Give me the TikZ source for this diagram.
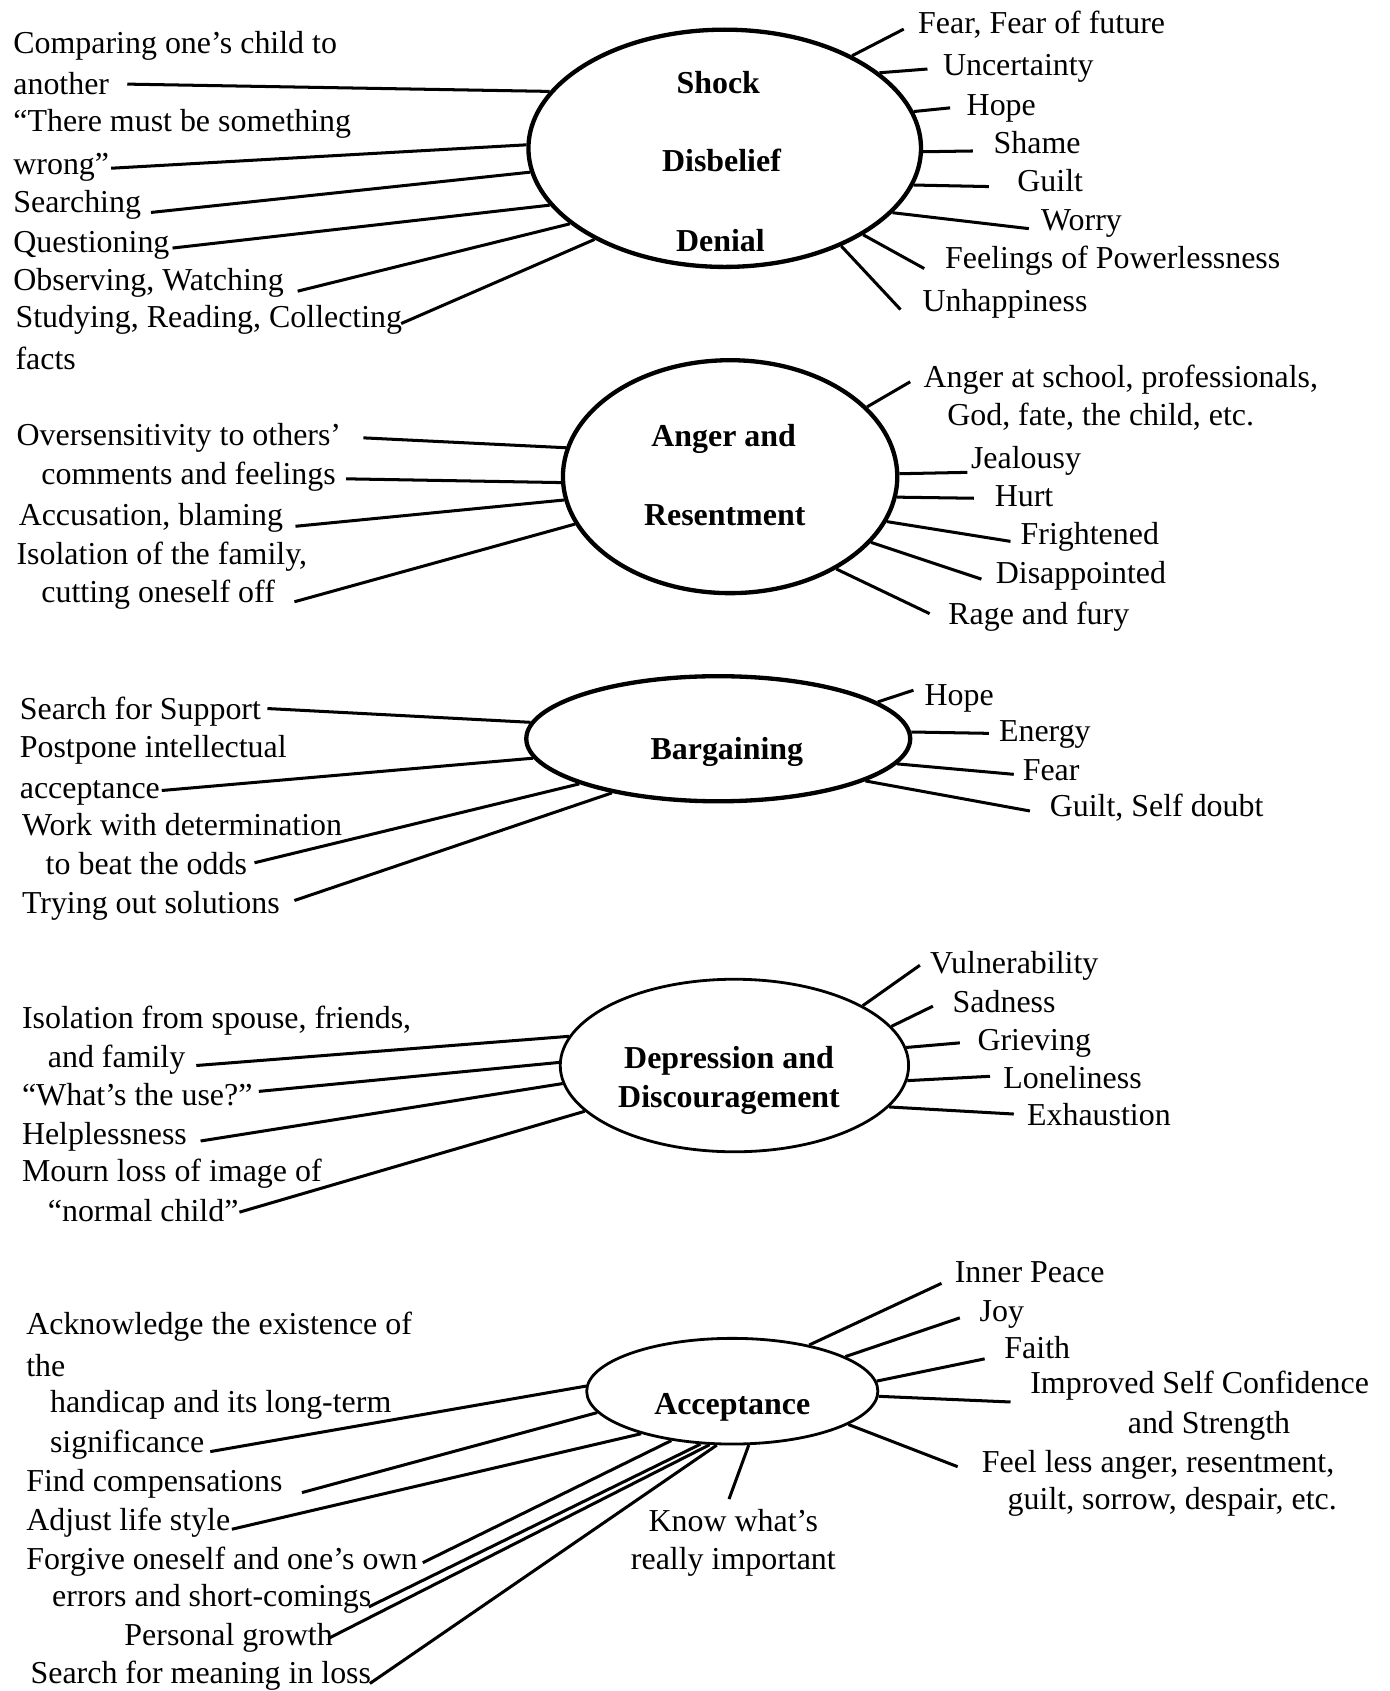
\documentclass[tikz,border=0pt]{standalone}
\usepackage{fontspec}
\setmainfont{Liberation Serif}
\usetikzlibrary{shapes.geometric}
\newcommand{\fsz}{\fontsize{14.8pt}{18pt}\selectfont}
\tikzset{
  stage/.style={draw, ellipse, inner sep=0pt, line width=2pt},
  stagethin/.style={stage, line width=1.3pt},
  txt/.style={anchor=base west, inner sep=0pt, font=\fsz},
  ctxt/.style={anchor=base, inner sep=0pt, font=\fsz},
  btxt/.style={anchor=base, inner sep=0pt, font=\fsz\bfseries},
  link/.style={line width=1.4pt}
}
\begin{document}
\begin{tikzpicture}[x=0.5pt,y=-0.5pt]
\fill[white] (0,0) rectangle (1288,1568);
\useasboundingbox (0,0) rectangle (1288,1568);

% ---------------- Stage 1: Shock / Disbelief / Denial
\node[stage, minimum width=182pt, minimum height=110pt] (E1) at (672,137.5) {};
\node[btxt] (s1a) at (666,87) {Shock};
\node[btxt] (s1b) at (669,159) {Disbelief};
\node[btxt] (s1c) at (668,233) {Denial};

\node[txt] (l11a) at (12,50) {Comparing one’s child to};
\node[txt] (l11b) at (12,88) {another};
\node[txt] (l12a) at (12,122) {“There must be something};
\node[txt] (l12b) at (12,162) {wrong”};
\node[txt] (l13) at (12,197) {Searching};
\node[txt] (l14) at (12,234) {Questioning};
\node[txt] (l15) at (12,269) {Observing, Watching};
\node[txt] (l16a) at (14,304) {Studying, Reading, Collecting};
\node[txt] (l16b) at (14,343) {facts};

\coordinate (c11) at (118,78);
\coordinate (c12) at (103,156);
\coordinate (c13) at (140,197);
\coordinate (c14) at (160,230);
\coordinate (c15) at (276,270);
\coordinate (c16) at (372,300);
\draw[link] (c11) -- (E1.162.8);
\draw[link] (c12) -- (E1.179.2);
\draw[link] (c13) -- (E1.187.4);
\draw[link] (c14) -- (E1.198.8);
\draw[link] (c15) -- (E1.206.1);
\draw[link] (c16) -- (E1.215.0);

\node[txt] (r11t) at (851,31) {Fear, Fear of future};
\node[txt] (r12t) at (874,70) {Uncertainty};
\node[txt] (r13t) at (896,107) {Hope};
\node[txt] (r14t) at (921,142) {Shame};
\node[txt] (r15t) at (943,178) {Guilt};
\node[txt] (r16t) at (965,214) {Worry};
\node[txt] (r17t) at (876,249) {Feelings of Powerlessness};
\node[txt] (r18t) at (855,289) {Unhappiness};

\coordinate (r11) at (838,27);
\coordinate (r12) at (860,64);
\coordinate (r13) at (881,100);
\coordinate (r14) at (902,140);
\coordinate (r15) at (917,173);
\coordinate (r16) at (954,212);
\coordinate (r17) at (857,249);
\coordinate (r18) at (835,287);
\draw[link] (r11) -- (E1.36.6);
\draw[link] (r12) -- (E1.26.6);
\draw[link] (r13) -- (E1.11.8);
\draw[link] (r14) -- (E1.359.8);
\draw[link] (r15) -- (E1.349.2);
\draw[link] (r16) -- (E1.339.1);
\draw[link] (r17) -- (E1.328.5);
\draw[link] (r18) -- (E1.320.6);

% ---------------- Stage 2: Anger and Resentment
\node[stage, minimum width=155pt, minimum height=108pt] (E2) at (677,442) {};
\node[btxt] (s2a) at (671,414) {Anger and};
\node[btxt] (s2b) at (672,487) {Resentment};

\node[txt] (l21a) at (15,413) {Oversensitivity to others’};
\node[txt] (l21b) at (38,449) {comments and feelings};
\node[txt] (l23) at (17,487) {Accusation, blaming};
\node[txt] (l24a) at (15,523) {Isolation of the family,};
\node[txt] (l24b) at (38,559) {cutting oneself off};

\coordinate (c21) at (337,406);
\coordinate (c22) at (321,444);
\coordinate (c23) at (274,488);
\coordinate (c24) at (273,558);
\draw[link] (c21) -- (E2.170.5);
\draw[link] (c22) -- (E2.182.2);
\draw[link] (c23) -- (E2.188.5);
\draw[link] (c24) -- (E2.197.6);

\node[txt] (r21a) at (856,359) {Anger at school, professionals,};
\node[txt] (r21b) at (878,395) {God, fate, the child, etc.};
\node[txt] (r22t) at (900,434) {Jealousy};
\node[txt] (r23t) at (922,470) {Hurt};
\node[txt] (r24t) at (946,505) {Frightened};
\node[txt] (r25t) at (923,541) {Disappointed};
\node[txt] (r26t) at (879,579) {Rage and fury};

\coordinate (r21) at (844,354);
\coordinate (r22) at (897,438);
\coordinate (r23) at (903,462);
\coordinate (r24) at (937,502);
\coordinate (r25) at (910,537);
\coordinate (r26) at (862,569);
\draw[link] (r21) -- (E2.27.5);
\draw[link] (r22) -- (E2.1.5);
\draw[link] (r23) -- (E2.353.0);
\draw[link] (r24) -- (E2.344.9);
\draw[link] (r25) -- (E2.335.0);
\draw[link] (r26) -- (E2.319.7);

% ---------------- Stage 3: Bargaining
\node[stage, minimum width=178pt, minimum height=58pt] (E3) at (666,685) {};
\node[btxt] (s3) at (674,704) {Bargaining};

\node[txt] (l31) at (18,667) {Search for Support};
\node[txt] (l32a) at (18,702) {Postpone intellectual};
\node[txt] (l32b) at (18,740) {acceptance};
\node[txt] (l33a) at (20,775) {Work with determination};
\node[txt] (l33b) at (42,811) {to beat the odds};
\node[txt] (l34) at (20,847) {Trying out solutions};

\coordinate (c31) at (248,657);
\coordinate (c32) at (150,733);
\coordinate (c33) at (236,800);
\coordinate (c34) at (273,835);
\draw[link] (c31) -- (E3.175.6);
\draw[link] (c32) -- (E3.186.5);
\draw[link] (c33) -- (E3.198.2);
\draw[link] (c34) -- (E3.207.3);

\node[txt] (r31t) at (857,654) {Hope};
\node[txt] (r32t) at (926,688) {Energy};
\node[txt] (r33t) at (948,724) {Fear};
\node[txt] (r34t) at (973,757) {Guilt, Self doubt};

\coordinate (r31) at (847,640);
\coordinate (r32) at (917,680);
\coordinate (r33) at (940,718);
\coordinate (r34) at (955,752);
\draw[link] (r31) -- (E3.13.1);
\draw[link] (r32) -- (E3.2.6);
\draw[link] (r33) -- (E3.352.7);
\draw[link] (r34) -- (E3.344.3);

% ---------------- Stage 4: Depression and Discouragement
\node[stagethin, minimum width=161.5pt, minimum height=80pt] (E4) at (681,988) {};
\node[btxt] (s4a) at (676,991) {Depression and};
\node[btxt] (s4b) at (676,1027) {Discouragement};

\node[txt] (l41a) at (20,954) {Isolation from spouse, friends,};
\node[txt] (l41b) at (44,990) {and family};
\node[txt] (l42) at (20,1025) {“What’s the use?”};
\node[txt] (l43) at (20,1061) {Helplessness};
\node[txt] (l44a) at (20,1096) {Mourn loss of image of};
\node[txt] (l44b) at (44,1133) {“normal child”};

\coordinate (c41) at (182,988);
\coordinate (c42) at (240,1012);
\coordinate (c43) at (186,1058);
\coordinate (c44) at (222,1124);
\draw[link] (c41) -- (E4.170.4);
\draw[link] (c42) -- (E4.179.6);
\draw[link] (c43) -- (E4.186.1);
\draw[link] (c44) -- (E4.197.3);

\node[txt] (r41t) at (862,903) {Vulnerability};
\node[txt] (r42t) at (883,939) {Sadness};
\node[txt] (r43t) at (906,974) {Grieving};
\node[txt] (r44t) at (930,1009) {Loneliness};
\node[txt] (r45t) at (952,1044) {Exhaustion};

\coordinate (r41) at (853,895);
\coordinate (r42) at (865,933);
\coordinate (r43) at (890,967);
\coordinate (r44) at (918,998);
\coordinate (r45) at (940,1033);
\draw[link] (r41) -- (E4.25.6);
\draw[link] (r42) -- (E4.14.7);
\draw[link] (r43) -- (E4.6.6);
\draw[link] (r44) -- (E4.355.7);
\draw[link] (r45) -- (E4.345.5);

% ---------------- Stage 5: Acceptance
\node[stagethin, minimum width=135pt, minimum height=49pt] (E5) at (679,1290) {};
\node[btxt] (s5) at (679,1312) {Acceptance};

\node[txt] (l51a) at (24,1237) {Acknowledge the existence of};
\node[txt] (l51b) at (24,1276) {the};
\node[txt] (l51c) at (46,1310) {handicap and its long-term};
\node[txt] (l51d) at (46,1347) {significance};
\node[txt] (l52) at (24,1383) {Find compensations};
\node[txt] (l53) at (24,1419) {Adjust life style};
\node[txt] (l54a) at (24,1455) {Forgive oneself and one’s own};
\node[txt] (l54b) at (48,1490) {errors and short-comings};
\node[txt] (l56) at (115,1526) {Personal growth};
\node[txt] (l57) at (28,1561) {Search for meaning in loss};
\node[ctxt] (l58a) at (680,1420) {Know what’s};
\node[ctxt] (l58b) at (680,1455) {really important};

\coordinate (c51) at (195,1346);
\coordinate (c52) at (280,1384);
\coordinate (c53) at (215,1418);
\coordinate (c54) at (392,1449);
\coordinate (c55) at (342,1490);
\coordinate (c56) at (305,1519);
\coordinate (c57) at (343,1561);
\coordinate (c58) at (676,1390);
\draw[link] (c51) -- (E5.178.7);
\draw[link] (c52) -- (E5.189.1);
\draw[link] (c53) -- (E5.205.5);
\draw[link] (c54) -- (E5.219.0);
\draw[link] (c55) -- (E5.239.0);
\draw[link] (c56) -- (E5.247.2);
\draw[link] (c57) -- (E5.254.4);
\draw[link] (c58) -- (E5.287.4);

\node[txt] (r51t) at (885,1189) {Inner Peace};
\node[txt] (r52t) at (908,1225) {Joy};
\node[txt] (r53t) at (931,1260) {Faith};
\node[txt] (r54a) at (955,1292) {Improved Self Confidence};
\node[ctxt] (r54b) at (1121,1329) {and Strength};
\node[txt] (r55a) at (910,1365) {Feel less anger, resentment,};
\node[txt] (r55b) at (934,1400) {guilt, sorrow, despair, etc.};

\coordinate (r51) at (873,1190);
\coordinate (r52) at (890,1222);
\coordinate (r53) at (913,1260);
\coordinate (r54) at (937,1300);
\coordinate (r55) at (888,1360);
\draw[link] (r51) -- (E5.31.4);
\draw[link] (r52) -- (E5.17.9);
\draw[link] (r53) -- (E5.4.2);
\draw[link] (r54) -- (E5.358.3);
\draw[link] (r55) -- (E5.344.6);
\end{tikzpicture}
\end{document}
